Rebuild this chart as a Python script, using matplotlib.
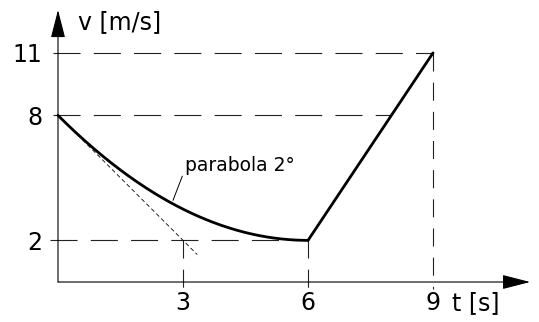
import matplotlib
matplotlib.use("Agg")
import matplotlib.pyplot as plt
import numpy as np

# key values of the v(t) diagram
t_ticks = [3, 6, 9]
v_ticks = [2, 8, 11]
t_start, v_start = 0, 8        # start of the parabola
t_vertex, v_vertex = 6, 2      # vertex of the parabola
t_end, v_end = 9, 11           # end of the straight segment
t_tangent = 3                  # tangent at t=0 meets v=2 here

plt.rcParams['font.family'] = 'DejaVu Sans'
plt.rcParams['lines.scale_dashes'] = False

fig = plt.figure(figsize=(5.39, 3.22), dpi=100)
ax = fig.add_axes([0, 0, 1, 1])
ax.set_xlim(-1.392, 11.543)
ax.set_ylim(-1.92, 13.54)
ax.axis('off')

long_dash = (0, (19.5, 9.5))
k = dict(color='#222222', lw=0.8)

# helper lines
ax.plot([-0.12, t_end], [v_end, v_end], linestyle=long_dash, **k)
ax.plot([-0.12, t_vertex + (v_start - v_vertex) * (t_end - t_vertex) / (v_end - v_vertex)],
        [v_start, v_start], linestyle=long_dash, **k)
ax.plot([-0.19, t_vertex], [v_vertex, v_vertex], linestyle=long_dash, **k)
for t in t_ticks:
    top = v_end if t == t_end else v_vertex
    ax.plot([t, t], [top, -0.32], linestyle=(0, (13, 8)), **k)

# parabola through (0, 8) with vertex at (6, 2)
tt = np.linspace(t_start, t_vertex, 200)
a = (v_start - v_vertex) / (t_start - t_vertex) ** 2
vv = v_vertex + a * (tt - t_vertex) ** 2
ax.plot(tt, vv, color='black', lw=2.0, solid_capstyle='round')
ax.plot([t_vertex, t_end], [v_vertex, v_end], color='black', lw=2.0,
        solid_capstyle='round')

# tangent at t=0
slope = (v_vertex - v_start) / (t_tangent - t_start)
t_tan = np.array([t_start, 3.34])
ax.plot(t_tan, v_start + slope * t_tan, color='black', lw=0.6,
        linestyle=(0, (3, 2)))

# axes with arrow heads
arrow = dict(arrowstyle='-|>,head_length=1.75,head_width=0.45',
             mutation_scale=10, lw=0.8, color='black',
             shrinkA=0, shrinkB=0)
ax.annotate('', xy=(11.33, 0), xytext=(0, 0), arrowprops=arrow)
ax.annotate('', xy=(0, 13.06), xytext=(0, 0), arrowprops=arrow)

# tick labels
for v in v_ticks:
    ax.text(-0.38, v, str(v), ha='right', va='center_baseline', fontsize=17)
for t in t_ticks:
    ax.text(t, -1.36, str(t), ha='center', va='baseline', fontsize=17)

ax.text(9.46, -1.36, 't [s]', ha='left', va='baseline', fontsize=17)
ax.text(0.48, 12.6, 'v [m/s]', ha='left', va='center_baseline', fontsize=17)

# label for the parabola with a leader line
ax.annotate('parabola 2°', xy=(2.76, 3.92), xytext=(3.05, 5.35),
            fontsize=13.5, ha='left', va='baseline',
            arrowprops=dict(arrowstyle='-', lw=0.7, color='black',
                            shrinkA=0, shrinkB=0,
                            relpos=(0, 0.3)))

fig.savefig('out.png', dpi=100)
